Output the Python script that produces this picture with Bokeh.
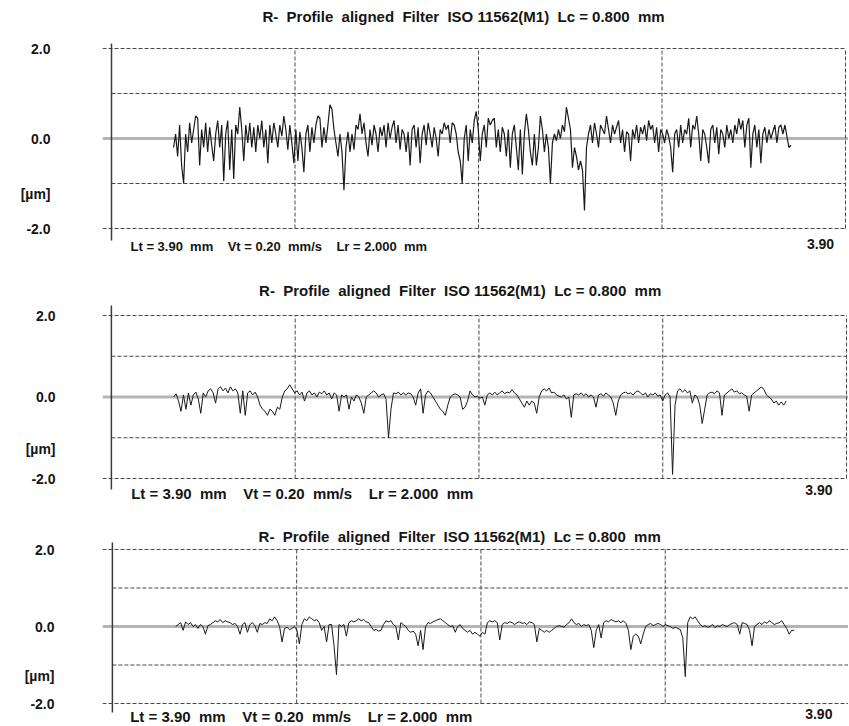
import numpy as np
from bokeh.plotting import figure
from bokeh.layouts import column
from bokeh.models import FixedTicker, Range1d
from bokeh.core.properties import value
from bokeh.embed import file_html
from bokeh.resources import INLINE

NB = "\u00a0"
# ---------------- data ----------------
TITLE = ("R-" + NB * 2 + "Profile" + NB * 2 + "aligned" + NB * 2 + "Filter" + NB * 2
         + "ISO 11562(M1)" + NB * 2 + "Lc = 0.800" + NB * 2 + "mm")
INFO = ("Lt = 3.90" + NB * 2 + "mm" + NB * 4 + "Vt = 0.20" + NB * 2 + "mm/s"
        + NB * 4 + "Lr = 2.000" + NB * 2 + "mm")
END_LABEL = "3.90"
UNIT_LABEL = "[\u00b5m]"
LENGTH_MM = 3.90
Y_TICKS = [-2.0, 0.0, 2.0]
Y_TICK_LABELS = ["-2.0", "0.0", "2.0"]
GRID_X = [0.975, 1.95, 2.925, 3.90]
GRID_Y_OUTER = [-2.0, 2.0]
GRID_Y_INNER = [-1.0, 1.0]

profile1_range = (0.33, 3.61)
profile1 = [
    -0.2, 0.1, -0.4, 0.3, -0.6, -1.0, 0.1, -0.3, 0.35, -0.1,
    0.2, 0.5, 0.45, -0.6, 0.2, -0.2, 0.35, -0.3, 0.25, -0.15,
    -0.5, 0.1, 0.4, -0.2, 0.3, -0.95, 0.1, 0.4, -0.7, 0.2,
    -0.9, 0.3, 0.1, 0.7, 0.2, -0.5, 0.3, -0.1, 0.35, -0.2,
    0.25, -0.3, 0.3, 0.0, 0.4, -0.2, 0.2, -0.55, 0.3, -0.1,
    0.35, 0.1, -0.2, 0.3, 0.05, 0.5, 0.2, -0.25, 0.3, -0.1,
    -0.55, 0.2, -0.5, 0.15, -0.2, -0.75, 0.1, 0.3, -0.3, 0.25,
    -0.1, 0.3, 0.5, 0.45, -0.2, 0.25, -0.1, 0.3, 0.75, 0.65,
    0.2, -0.1, -0.4, 0.1, -0.3, -1.15, -0.2, 0.15, -0.3, 0.1,
    -0.25, 0.3, 0.2, 0.55, 0.1, 0.35, -0.1, -0.4, 0.2, -0.15,
    0.3, 0.1, -0.3, 0.25, 0.05, 0.3, -0.2, 0.35, 0.0, 0.25,
    0.4, -0.1, 0.3, -0.25, 0.2, 0.1, -0.3, 0.15, -0.6, 0.2,
    0.3, -0.2, 0.25, -0.55, 0.1, 0.3, -0.15, 0.35, 0.1, -0.2,
    0.25, 0.0, -0.4, 0.2, 0.1, 0.35, 0.2, 0.3, -0.1, 0.35,
    0.3, 0.1, -0.3, -0.5, -1.0, 0.0, 0.3, -0.5, 0.2, -0.1,
    0.4, 0.6, 0.2, -0.5, 0.1, 0.3, -0.2, 0.45, 0.3, 0.4,
    0.45, -0.2, 0.2, -0.3, 0.25, 0.1, -0.4, 0.2, -0.65, 0.1,
    0.3, -0.2, -0.7, 0.2, -0.8, 0.1, 0.55, 0.2, -0.3, -0.6,
    0.1, -0.6, -0.2, 0.5, 0.2, -0.3, 0.1, -0.2, -1.0, -0.1,
    0.1, -0.05, 0.2, 0.0, 0.3, 0.15, 0.7, 0.45, 0.2, -0.65,
    -0.2, -0.4, -0.7, -0.5, -0.7, -1.6, -0.2, 0.1, 0.3, -0.1,
    0.35, 0.1, -0.2, 0.3, 0.2, 0.1, 0.5, 0.2, -0.1, 0.3,
    0.1, 0.25, 0.4, -0.1, 0.2, -0.3, 0.15, 0.1, -0.5, 0.2,
    0.0, 0.3, -0.1, 0.25, 0.1, 0.3, -0.05, 0.4, 0.2, 0.3,
    -0.1, 0.25, -0.3, 0.2, 0.1, -0.1, 0.2, 0.05, -0.2, -0.75,
    0.1, 0.2, -0.2, 0.3, -0.1, 0.2, 0.1, 0.45, -0.2, 0.3,
    0.2, 0.5, 0.1, -0.5, 0.2, 0.1, -0.2, -0.55, 0.2, 0.3,
    -0.1, 0.25, -0.35, 0.2, 0.1, -0.2, 0.3, 0.0, 0.2, -0.1,
    0.3, 0.1, 0.45, 0.2, 0.4, -0.2, 0.3, 0.45, -0.65, 0.1,
    0.3, -0.2, 0.2, -0.55, 0.1, 0.25, -0.1, 0.2, 0.0, 0.15,
    0.3, -0.1, 0.25, 0.3, 0.1, 0.3, 0.05, -0.2, -0.15,
]

profile2_range = (0.33, 3.58)
profile2 = [
    0.0, 0.08, -0.1, -0.35, 0.05, -0.3, 0.1, -0.2, 0.05, 0.12,
    -0.05, -0.4, 0.1, 0.0, 0.15, 0.2, 0.1, -0.15, 0.2, 0.25,
    0.15, 0.22, 0.1, 0.25, 0.15, 0.2, 0.1, -0.4, 0.15, -0.45,
    0.1, 0.15, 0.05, 0.12, 0.0, -0.2, -0.3, -0.35, -0.45, -0.3,
    -0.35, -0.45, -0.25, -0.3, 0.0, 0.15, 0.2, 0.3, 0.2, 0.1,
    0.15, 0.05, 0.12, -0.1, 0.1, 0.15, 0.05, 0.1, 0.0, 0.12,
    0.08, 0.15, 0.05, 0.1, -0.05, 0.1, 0.05, -0.35, 0.05, 0.0,
    0.05, -0.3, 0.0, -0.1, 0.05, 0.0, -0.15, -0.4, 0.0, 0.05,
    0.1, 0.15, 0.1, 0.0, 0.05, 0.08, -0.05, -1.0, -0.3, 0.1,
    0.08, 0.12, 0.05, 0.1, 0.05, 0.1, 0.08, 0.0, -0.2, 0.1,
    0.2, -0.4, 0.05, 0.15, 0.1, 0.0, -0.1, -0.2, -0.3, -0.35,
    -0.45, -0.2, 0.0, 0.05, 0.08, 0.05, 0.0, -0.3, -0.25, -0.1,
    0.15, 0.05, 0.0, 0.02, -0.03, 0.0, -0.2, 0.05, 0.1, 0.05,
    0.12, 0.05, 0.1, 0.15, 0.08, 0.12, 0.1, 0.18, 0.1, 0.05,
    -0.05, -0.15, -0.25, -0.1, -0.2, -0.1, -0.15, -0.4, 0.0, 0.15,
    0.2, 0.15, 0.22, 0.1, 0.12, 0.05, 0.02, 0.0, 0.05, -0.05,
    0.0, -0.5, 0.05, 0.08, 0.05, 0.1, 0.03, 0.08, 0.0, 0.05,
    0.0, -0.25, 0.05, 0.08, 0.02, 0.1, 0.05, 0.0, -0.15, -0.45,
    -0.1, 0.05, 0.1, 0.12, 0.08, 0.1, 0.05, 0.12, 0.15, 0.1,
    0.05, 0.1, 0.0, 0.08, 0.05, 0.1, 0.02, 0.05, -0.1, 0.05,
    0.1, 0.0, -1.9, -0.2, 0.15, 0.2, 0.12, 0.18, 0.1, 0.15,
    -0.15, 0.05, 0.0, -0.2, -0.65, -0.3, 0.05, 0.1, 0.12, 0.08,
    0.15, 0.1, -0.45, 0.05, 0.1, 0.15, 0.2, 0.12, 0.15, 0.08,
    0.1, 0.05, 0.02, -0.35, 0.05, 0.1, 0.15, 0.2, 0.25, 0.18,
    0.05, 0.0, -0.05, -0.15, -0.1, -0.2, -0.12, -0.2, -0.1,
]

profile3_range = (0.335, 3.607)
profile3 = [
    0.0, 0.05, 0.1, -0.1, 0.12, 0.05, 0.1, 0.0, 0.05, -0.05,
    0.05, 0.0, -0.2, 0.02, 0.05, 0.1, 0.15, 0.12, 0.18, 0.1,
    0.15, 0.12, 0.1, 0.05, 0.08, 0.0, -0.2, 0.05, 0.1, -0.15,
    0.05, 0.1, 0.02, -0.15, 0.08, 0.05, 0.1, 0.08, 0.2, 0.15,
    0.25, 0.15, 0.0, -0.4, -0.05, -0.02, -0.08, -0.05, 0.0, -0.1,
    -0.45, 0.05, 0.2, 0.15, 0.25, 0.2, 0.15, 0.18, 0.1, -0.1,
    0.0, -0.4, 0.05, 0.05, -0.5, -1.25, 0.05, 0.0, 0.05, -0.25,
    0.1, 0.15, 0.12, 0.15, 0.2, 0.15, 0.18, 0.12, 0.1, 0.0,
    -0.1, -0.08, -0.12, -0.1, 0.05, 0.15, 0.12, 0.15, 0.05, 0.0,
    -0.35, 0.1, 0.05, 0.0, -0.1, -0.15, -0.12, -0.2, -0.5, -0.1,
    -0.6, 0.0, 0.1, 0.08, 0.12, 0.15, 0.18, 0.2, 0.15, 0.1,
    0.05, 0.0, 0.02, -0.15, 0.0, 0.05, -0.05, -0.1, -0.15, -0.1,
    -0.2, -0.15, -0.2, -0.25, -0.15, -0.2, 0.1, 0.15, 0.12, 0.15,
    0.1, -0.35, 0.05, 0.1, 0.08, 0.12, 0.1, 0.05, 0.1, 0.12,
    0.08, 0.1, 0.05, 0.12, 0.1, 0.05, -0.4, -0.05, -0.1, -0.15,
    -0.1, -0.15, -0.1, -0.05, 0.0, 0.02, 0.0, -0.02, 0.05, 0.1,
    0.2, 0.1, 0.05, 0.08, 0.0, 0.05, 0.02, 0.05, -0.1, -0.55,
    -0.1, 0.05, -0.3, 0.1, 0.15, 0.12, 0.18, 0.15, 0.12, 0.15,
    0.1, 0.15, 0.08, -0.1, -0.6, -0.25, -0.2, -0.25, -0.45, -0.2,
    0.0, 0.05, 0.08, 0.02, 0.05, 0.08, 0.05, 0.0, 0.05, 0.02,
    0.0, -0.05, -0.02, -0.05, -0.08, -0.3, -1.3, 0.1, 0.25, 0.2,
    0.25, 0.15, 0.05, 0.0, 0.02, -0.02, 0.0, 0.05, -0.03, 0.02,
    0.0, 0.05, 0.02, 0.0, 0.05, 0.08, 0.1, 0.05, -0.2, 0.1,
    0.08, 0.05, -0.1, -0.5, 0.0, 0.05, 0.1, 0.05, 0.12, 0.08,
    0.15, 0.1, 0.05, 0.08, 0.1, 0.15, 0.05, -0.05, -0.2, -0.1, -0.1,
]

# ---------------- layout (page pixels, page origin = figure origin) ----------------
PAGE_RIGHT = 848
FIG_W = 848
FONT = value("Liberation Sans")

panels = [
    dict(top=0, height=265, x0=111, x1=845, yp2=48, ym2=228, frame_left=102,
         title_cx=463, title_y=16, info_x=130, info_y=246, end_x=820, end_y=243,
         axis_top=43, axis_bot=240, label_right=50, unit_y=194,
         title_size="15px", info_size="13px", prof_w=1.2),
    dict(top=265, height=247, x0=102, x1=846, yp2=315, ym2=478, frame_left=93,
         title_cx=455, title_y=290, info_x=122, info_y=493, end_x=818, end_y=489,
         axis_top=305, axis_bot=489, label_right=46, unit_y=448,
         title_size="15px", info_size="15px", prof_w=1.0),
    dict(top=512, height=212, x0=104, x1=849, yp2=549, ym2=703, frame_left=94,
         title_cx=455, title_y=536, info_x=122, info_y=716, end_x=818, end_y=713,
         axis_top=542, axis_bot=712, label_right=46, unit_y=675,
         title_size="15px", info_size="15px", prof_w=1.0),
]
profiles = [(profile1, profile1_range), (profile2, profile2_range), (profile3, profile3_range)]

GRID_COLOR = "#4a4a4a"
GRID_DASH = "4 2"
TEXT_COLOR = "#151515"


def build(cfg, vals, xr):
    kx = (cfg["x1"] - cfg["x0"]) / LENGTH_MM
    ky = (cfg["ym2"] - cfg["yp2"]) / 4.0

    def dx(px):
        return (px - cfg["x0"]) / kx

    def dy(py):
        return 2.0 - (py - cfg["yp2"]) / ky

    top, h = cfg["top"], cfg["height"]
    left_x = dx(cfg["frame_left"])
    p = figure(width=FIG_W, height=h,
               x_range=Range1d(left_x, dx(PAGE_RIGHT)),
               y_range=Range1d(dy(top + h), dy(top)),
               toolbar_location=None, output_backend="svg",
               x_axis_location=None, title=None,
               min_border_left=cfg["frame_left"], min_border_right=0,
               min_border_top=0, min_border_bottom=0)
    p.outline_line_color = None
    p.background_fill_color = "white"
    p.border_fill_color = "white"
    p.xgrid.visible = False
    p.ygrid.visible = False

    # y axis: labels only
    unit_val = round(dy(cfg["unit_y"]), 3)
    ticks = Y_TICKS + [unit_val]
    overrides = {t: l for t, l in zip(Y_TICKS, Y_TICK_LABELS)}
    overrides[unit_val] = UNIT_LABEL
    ax = p.yaxis[0]
    ax.ticker = FixedTicker(ticks=ticks)
    ax.major_label_overrides = overrides
    ax.axis_line_color = None
    ax.major_tick_line_color = None
    ax.minor_tick_line_color = None
    ax.major_tick_out = 0
    ax.major_tick_in = 0
    ax.major_label_standoff = cfg["frame_left"] - cfg["label_right"]
    ax.major_label_text_font = "Liberation Sans"
    ax.major_label_text_font_style = "bold"
    ax.major_label_text_font_size = "14px"
    ax.major_label_text_color = TEXT_COLOR

    # zero line (thick gray)
    p.segment(x0=[left_x], y0=[0.0], x1=[LENGTH_MM + 0.2], y1=[0.0],
              line_color="#b4b4b4", line_width=3)
    # outer dashed horizontal lines (+2, -2) starting left of axis
    p.segment(x0=[left_x] * 2, y0=GRID_Y_OUTER, x1=[LENGTH_MM] * 2, y1=GRID_Y_OUTER,
              line_color=GRID_COLOR, line_width=1, line_dash=GRID_DASH)
    # inner dashed horizontal lines (+1, -1)
    p.segment(x0=[0.0] * 2, y0=GRID_Y_INNER, x1=[LENGTH_MM] * 2, y1=GRID_Y_INNER,
              line_color=GRID_COLOR, line_width=1, line_dash=GRID_DASH)
    # vertical dashed lines
    p.segment(x0=GRID_X, y0=[-2.0] * len(GRID_X), x1=GRID_X, y1=[2.0] * len(GRID_X),
              line_color=GRID_COLOR, line_width=1, line_dash=GRID_DASH)
    # y axis line
    p.segment(x0=[0.0], y0=[dy(cfg["axis_bot"])], x1=[0.0], y1=[dy(cfg["axis_top"])],
              line_color="#3a3a3a", line_width=1.5)

    # profile
    xs = np.linspace(xr[0], xr[1], len(vals))
    p.line(xs, vals, line_color="#1a1a1a", line_width=cfg["prof_w"])

    # texts
    p.text(x=[dx(cfg["title_cx"])], y=[dy(cfg["title_y"])], text=[TITLE],
           text_align="center", text_baseline="middle", text_font=FONT,
           text_font_style="bold", text_font_size=cfg["title_size"], text_color=TEXT_COLOR)
    p.text(x=[dx(cfg["info_x"])], y=[dy(cfg["info_y"])], text=[INFO],
           text_align="left", text_baseline="middle", text_font=FONT,
           text_font_style="bold", text_font_size=cfg["info_size"], text_color=TEXT_COLOR)
    p.text(x=[dx(cfg["end_x"])], y=[dy(cfg["end_y"])], text=[END_LABEL],
           text_align="center", text_baseline="middle", text_font=FONT,
           text_font_style="bold", text_font_size="14px", text_color=TEXT_COLOR)
    return p


figs = [build(cfg, vals, xr) for cfg, (vals, xr) in zip(panels, profiles)]
layout = column(*figs, spacing=0)

open("out.html", "w").write(file_html(layout, INLINE))
